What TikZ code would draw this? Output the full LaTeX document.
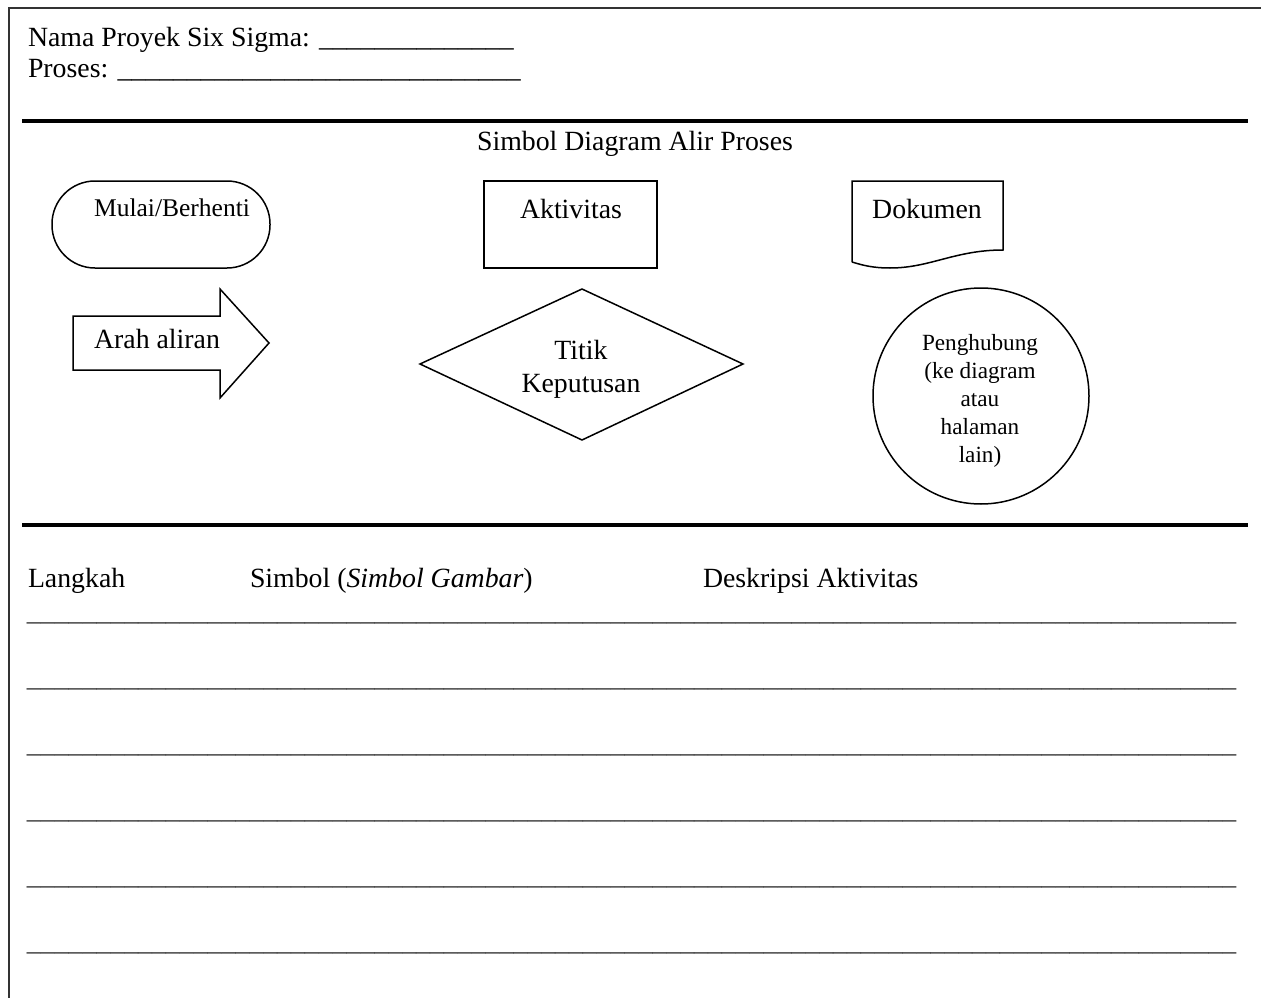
\documentclass[tikz,border=0pt]{standalone}
\usepackage{fontspec}
\setmainfont{Liberation Serif}
\begin{document}
\begin{tikzpicture}[x=1pt,y=-1pt,
  txt/.style={inner sep=0pt,outer sep=0pt,font=\fontsize{27.8}{32}\selectfont},
  txtm/.style={inner sep=0pt,outer sep=0pt,font=\fontsize{25.5}{29}\selectfont},
  txts/.style={inner sep=0pt,outer sep=0pt,font=\fontsize{23.2}{28}\selectfont},
  frame/.style={line width=2pt,draw=black!80},
  divider/.style={line width=4pt,draw=black},
  symbolline/.style={line width=1.5pt,draw=black,line join=miter}]
\useasboundingbox (0,0) rectangle (1261,998);

% page frame (top and left edges)
\draw[frame] (1261,8) -- (9,8) -- (9,998);

% header fields
\node[txt,anchor=base west] (proj) at (28,46.5) {Nama Proyek Six Sigma: \_\_\_\_\_\_\_\_\_\_\_\_\_\_};
\node[txt,anchor=base west] (proc) at (28,77.5) {Proses: \_\_\_\_\_\_\_\_\_\_\_\_\_\_\_\_\_\_\_\_\_\_\_\_\_\_\_\_\_};

% section dividers
\coordinate (d1a) at (22,121); \coordinate (d1b) at (1248,121);
\coordinate (d2a) at (22,525); \coordinate (d2b) at (1248,525);
\draw[divider] (d1a) -- (d1b);
\draw[divider] (d2a) -- (d2b);

% legend title
\node[txt,anchor=base] (title) at (635,150) {Simbol Diagram Alir Proses};

% start/stop terminal
\draw[symbolline,rounded corners=43pt] (52,181) rectangle (270,268);
\node[txtm,anchor=base] (term) at (172,216) {Mulai/Berhenti};

% activity box
\draw[symbolline] (484,181) rectangle (657,268);
\node[txt,anchor=base] (act) at (571,218) {Aktivitas};

% document symbol
\draw[symbolline] (852,262) -- (852,181) -- (1003,181) -- (1003,250)
  .. controls (955,250) and (930,268) .. (890,268)
  .. controls (872,268) and (862,265) .. (852,262);
\node[txt,anchor=base] (doc) at (927,218) {Dokumen};

% flow direction arrow
\draw[symbolline] (73,316) -- (220,316) -- (220,289) -- (269,343) -- (220,398)
  -- (220,370) -- (73,370) -- cycle;
\node[txt,anchor=base] (flow) at (157,348) {Arah aliran};

% decision diamond
\draw[symbolline] (582,289) -- (743,364) -- (582,440) -- (420,364) -- cycle;
\node[txt,anchor=base] (dec1) at (581,359) {Titik};
\node[txt,anchor=base] (dec2) at (581,392) {Keputusan};

% connector circle
\draw[symbolline] (981,396) circle (108);
\node[txts,anchor=center,align=center] (conn) at (980,401)
  {Penghubung\\(ke diagram\\atau\\halaman\\lain)};

% step table header
\node[txt,anchor=base west] (h1) at (28,587) {Langkah};
\node[txt,anchor=base west] (h2) at (250,587) {Simbol (\textit{Simbol Gambar})};
\node[txt,anchor=base west] (h3) at (703,587) {Deskripsi Aktivitas};

% blank writing lines
\foreach \i/\yy in {1/620,2/686,3/752,4/818,5/884,6/950}{
  \node[txt,anchor=base west,text=black!80] (row\i) at (27,\yy)
    {\_\_\_\_\_\_\_\_\_\_\_\_\_\_\_\_\_\_\_\_\_\_\_\_\_\_\_\_\_\_\_\_\_\_\_\_\_\_\_\_\_\_\_\_\_\_\_\_\_\_\_\_\_\_\_\_\_\_\_\_\_\_\_\_\_\_\_\_\_\_\_\_\_\_\_\_\_\_\_\_\_\_\_\_\_\_\_};
}
\end{tikzpicture}
\end{document}
